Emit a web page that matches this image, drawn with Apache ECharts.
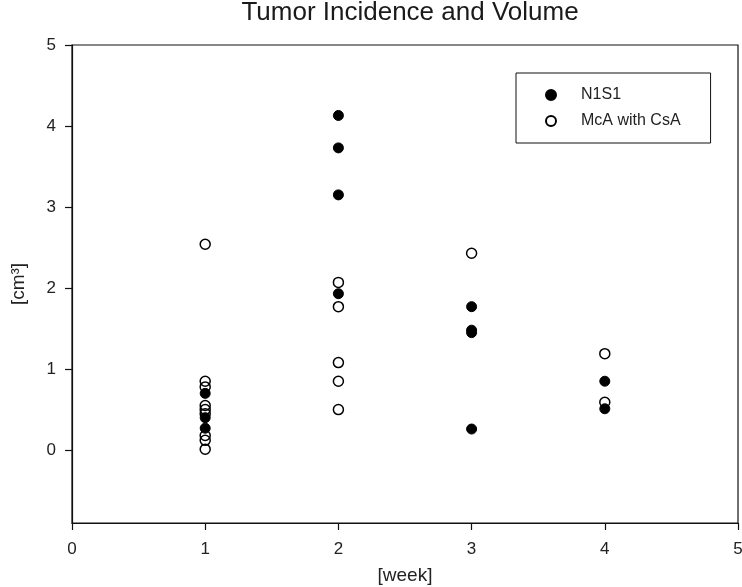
<!DOCTYPE html>
<html>
<head>
<meta charset="utf-8">
<script src="https://cdn.jsdelivr.net/npm/echarts@6/dist/echarts.min.js"></script>
<style>html,body{margin:0;padding:0;background:#fff}#c{width:742px;height:587px}</style>
</head>
<body>
<div id="c"></div>
<script>
var weeks = [1, 2, 3, 4];
var n1s1W1 = [0.70, 0.40, 0.27];
var n1s1W2 = [4.13, 3.73, 3.15, 1.93];
var n1s1W3 = [1.77, 1.48, 1.45, 0.26];
var n1s1W4 = [0.85, 0.51];
var mcaW1 = [2.54, 0.85, 0.78, 0.55, 0.50, 0.45, 0.18, 0.12, 0.01];
var mcaW2 = [2.07, 1.77, 1.08, 0.85, 0.50];
var mcaW3 = [2.43];
var mcaW4 = [1.19, 0.59];
var yTicks = [0, 1, 2, 3, 4, 5];

function pairs(groups) {
  var out = [];
  groups.forEach(function (g, i) {
    g.forEach(function (v) { out.push([weeks[i], v]); });
  });
  return out;
}
var n1s1 = pairs([n1s1W1, n1s1W2, n1s1W3, n1s1W4]);
var mca = pairs([mcaW1, mcaW2, mcaW3, mcaW4]);

var font = 'Liberation Sans';
var chart = echarts.init(document.getElementById('c'));
chart.setOption({
  backgroundColor: '#fff',
  animation: false,
  title: {
    text: 'Tumor Incidence and Volume',
    left: 405, textAlign: 'center', top: -5,
    textStyle: { fontFamily: font, fontSize: 26, fontWeight: 'normal', color: '#1a1a1a' }
  },
  legend: {
    orient: 'vertical',
    left: 516, top: 73,
    padding: [14, 30, 14, 29],
    itemWidth: 10, itemHeight: 10, itemGap: 10,
    borderColor: '#111', borderWidth: 1,
    textStyle: { fontFamily: font, fontSize: 16, color: '#222', padding: [0, 0, 0, 20] },
    data: ['N1S1', 'McA with CsA']
  },
  grid: {
    left: 72, right: 4, top: 45, bottom: 64,
    outerBoundsMode: 'none', containLabel: false,
    show: true, borderColor: '#111', borderWidth: 1.2
  },
  xAxis: {
    type: 'value', min: 0, max: 5, interval: 1,
    name: '[week]', nameLocation: 'middle', nameGap: 43,
    nameTextStyle: { fontFamily: font, fontSize: 19, color: '#222' },
    axisLine: { show: true, onZero: false, lineStyle: { color: '#111', width: 1.2 } },
    axisTick: { show: true, inside: false, length: 7, lineStyle: { color: '#111', width: 1.2 } },
    axisLabel: { fontFamily: font, fontSize: 17, color: '#222', margin: 18 },
    splitLine: { show: false }
  },
  yAxis: {
    type: 'value', min: -0.9, max: 5,
    name: '[cm³]', nameLocation: 'middle', nameGap: 44, nameRotate: 90,
    nameTextStyle: { fontFamily: font, fontSize: 19, color: '#222' },
    axisLine: { show: true, onZero: false, lineStyle: { color: '#111', width: 1.2 } },
    axisTick: { show: true, inside: false, length: 7, customValues: yTicks, lineStyle: { color: '#111', width: 1.2 } },
    axisLabel: { fontFamily: font, fontSize: 17, color: '#222', margin: 16, customValues: yTicks },
    splitLine: { show: false }
  },
  series: [
    {
      name: 'N1S1', type: 'scatter', data: n1s1,
      symbol: 'circle', symbolSize: 10,
      itemStyle: { color: '#000', borderColor: '#000', borderWidth: 1, opacity: 1 }
    },
    {
      name: 'McA with CsA', type: 'scatter', data: mca,
      symbol: 'circle', symbolSize: 10,
      itemStyle: { color: 'rgba(255,255,255,0)', borderColor: '#000', borderWidth: 1.5, opacity: 1 }
    }
  ]
});
</script>
</body>
</html>
